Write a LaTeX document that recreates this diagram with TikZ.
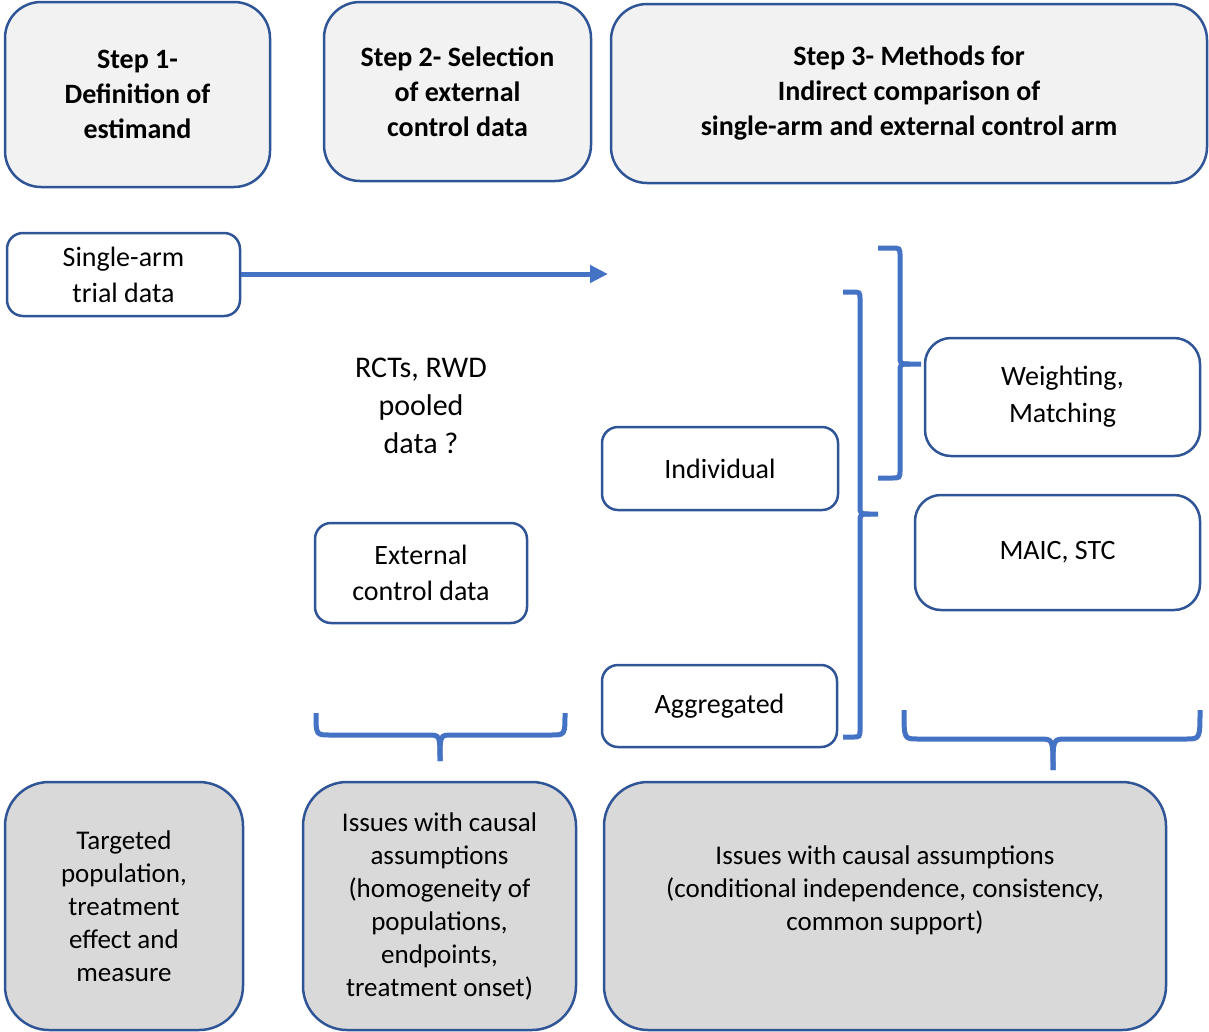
\documentclass[tikz,border=0pt]{standalone}
\usepackage{fontspec}
\setmainfont{Carlito}
\usetikzlibrary{arrows.meta}
\definecolor{bordc}{HTML}{2F5597}
\definecolor{bracec}{HTML}{4472C4}
\definecolor{lightf}{HTML}{F2F2F2}
\definecolor{darkf}{HTML}{D9D9D9}
\tikzset{
  boxbase/.style={draw=bordc, line width=2.5pt, rectangle, align=center, inner sep=0pt},
  stepbox/.style={boxbase, fill=lightf, rounded corners=36pt, font=\fontsize{28}{35}\selectfont\bfseries},
  databox/.style={boxbase, fill=white, rounded corners=16pt, font=\fontsize{28}{36}\selectfont},
  methbox/.style={boxbase, fill=white, rounded corners=26pt, font=\fontsize{28}{37}\selectfont},
  issuebox/.style={boxbase, fill=darkf, rounded corners=44pt, font=\fontsize{27}{33}\selectfont},
  bracestroke/.style={draw=bracec, line width=5pt, line cap=butt},
  flowarrow/.style={draw=bracec, line width=5pt, -{Triangle[length=18pt,width=17pt]}}
}
\begin{document}
\begin{tikzpicture}[x=1pt,y=-1pt]
\useasboundingbox (0,0) rectangle (1209,1031);
% step boxes
\node[stepbox, minimum width=265pt, minimum height=185pt] (s1) at (137.5,94.5) {Step 1-\\Definition of\\estimand};
\node[stepbox, minimum width=267pt, minimum height=179pt] (s2) at (457.5,91.5) {Step 2- Selection\\of external\\control data};
\node[stepbox, minimum width=596pt, minimum height=179pt] (s3) at (909,93.5) {Step 3- Methods for\\Indirect comparison of\\single-arm and external control arm};
% data boxes
\node[databox, minimum width=233pt, minimum height=83pt] (single) at (123.5,274.5) {Single-arm\\trial data};
\coordinate (arrowend) at (608,274);
\draw[flowarrow] (single.east |- arrowend) -- (arrowend);
\node[align=center, font=\fontsize{30}{38}\selectfont] (rct) at (421,406) {RCTs, RWD\\pooled\\data ?};
\node[databox, minimum width=212pt, minimum height=100pt] (ext) at (421,573) {External\\control data};
\node[databox, minimum width=236pt, minimum height=83pt] (indiv) at (720,468.5) {Individual};
\node[databox, minimum width=235pt, minimum height=82pt] (aggr) at (719.5,706) {Aggregated};
\node[methbox, minimum width=275pt, minimum height=118pt] (weight) at (1062.5,397) {Weighting,\\Matching};
\node[methbox, minimum width=285pt, minimum height=115pt] (maic) at (1057.5,552.5) {MAIC, STC};
% bottom boxes
\node[issuebox, minimum width=238pt, minimum height=248pt] (targ) at (124,906) {Targeted\\population,\\treatment\\effect and\\measure};
\node[issuebox, minimum width=273pt, minimum height=248pt] (iss1) at (439.5,906) {Issues with causal\\assumptions\\(homogeneity of\\populations,\\endpoints,\\treatment onset)};
\node[issuebox, minimum width=562pt, minimum height=248pt,
  label={[align=center, font=\fontsize{27}{33}\selectfont, yshift=16pt]center:Issues with causal assumptions\\(conditional independence, consistency,\\common support)}] (iss2) at (885,906) {};
% big right bracket (Individual / Aggregated)
\draw[bracestroke] (843,292) -- (852,292) .. controls (860,292) .. (860,300) -- (860,506) .. controls (860,514) .. (870,514) -- (878,514);
\draw[bracestroke] (843,737) -- (852,737) .. controls (860,737) .. (860,729) -- (860,522) .. controls (860,514) .. (870,514);
% upper right bracket (Weighting)
\draw[bracestroke] (878,248) -- (891,248) .. controls (900,248) .. (900,256) -- (900,356) .. controls (900,364) .. (910,364) -- (921,364);
\draw[bracestroke] (878,478) -- (891,478) .. controls (900,478) .. (900,470) -- (900,372) .. controls (900,364) .. (910,364);
% bottom brace left
\draw[bracestroke] (316,713) .. controls (316,735) .. (330,735) -- (428,735) .. controls (440,735) .. (440,761);
\draw[bracestroke] (565,713) .. controls (565,735) .. (551,735) -- (452,735) .. controls (440,735) .. (440,761);
% bottom brace right
\draw[bracestroke] (904,710) .. controls (904,739) .. (918,739) -- (1040,739) .. controls (1053,739) .. (1053,770);
\draw[bracestroke] (1200,710) .. controls (1200,739) .. (1186,739) -- (1066,739) .. controls (1053,739) .. (1053,770);
\end{tikzpicture}
\end{document}
